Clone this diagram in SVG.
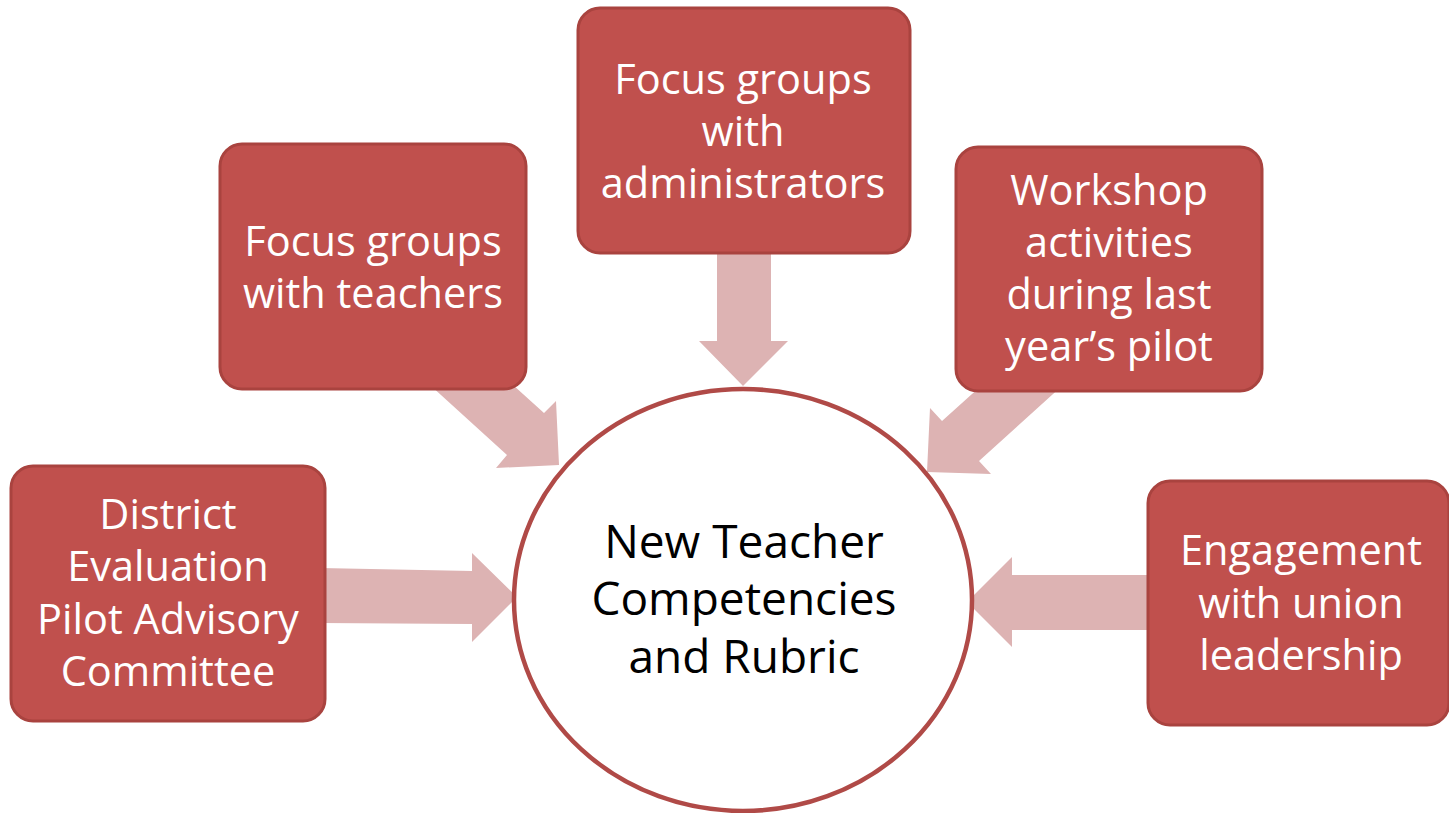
<svg xmlns="http://www.w3.org/2000/svg" width="1449" height="813" viewBox="0 0 1449 813">
<style>
.box{fill:#C0504D;stroke:#A9433F;stroke-width:3}
.arr{fill:#DDB3B3}
.t{font-family:"Open Sans","Noto Sans",sans-serif;font-size:41.5px;fill:#FFFFFF;text-anchor:middle}
.c{font-family:"Open Sans","Noto Sans",sans-serif;font-size:46px;fill:#000000;text-anchor:middle}
</style>
<rect width="1449" height="813" fill="#FFFFFF"/>
<g id="connectors">
<polygon class="arr" points="717,250 771,250 771,341 788,341 743,386 699,341 717,341"/>
<polygon class="arr" points="430,385 507,455 496,468 559,465 556,401 544,413 513,385"/>
<polygon class="arr" points="1063,385 979,461 991,474 927,472 930,408 942,421 982,385"/>
<polygon class="arr" points="320,568 472,571 472,553 517,597 472,642 472,624 320,623"/>
<polygon class="arr" points="1152,575 1012,575 1012,557 967,602 1012,647 1012,630 1152,630"/>
</g>
<g id="center">
<ellipse cx="743" cy="600" rx="229" ry="211" fill="#FFFFFF" stroke="#B04A47" stroke-width="4.5"/>
<text class="c" x="744" y="558">New Teacher</text>
<text class="c" x="744" y="615">Competencies</text>
<text class="c" x="744" y="673">and Rubric</text>
</g>
<g id="node-admins">
<rect class="box" x="578" y="8" width="332" height="245" rx="22"/>
<text class="t" x="743" y="94">Focus groups</text>
<text class="t" x="743" y="146">with</text>
<text class="t" x="743" y="198">administrators</text>
</g>
<g id="node-teachers">
<rect class="box" x="220" y="144" width="306" height="245" rx="22"/>
<text class="t" x="373" y="256">Focus groups</text>
<text class="t" x="373" y="308">with teachers</text>
</g>
<g id="node-workshop">
<rect class="box" x="956" y="147" width="306" height="244" rx="22"/>
<text class="t" x="1109" y="205">Workshop</text>
<text class="t" x="1109" y="257">activities</text>
<text class="t" x="1109" y="309">during last</text>
<text class="t" x="1109" y="361">year’s pilot</text>
</g>
<g id="node-district">
<rect class="box" x="11" y="466" width="314" height="255" rx="22"/>
<text class="t" x="168" y="529">District</text>
<text class="t" x="168" y="581">Evaluation</text>
<text class="t" x="168" y="634">Pilot Advisory</text>
<text class="t" x="168" y="686">Committee</text>
</g>
<g id="node-union">
<rect class="box" x="1148" y="481" width="301" height="244" rx="22"/>
<text class="t" x="1301" y="565">Engagement</text>
<text class="t" x="1301" y="618">with union</text>
<text class="t" x="1301" y="670">leadership</text>
</g>
</svg>
